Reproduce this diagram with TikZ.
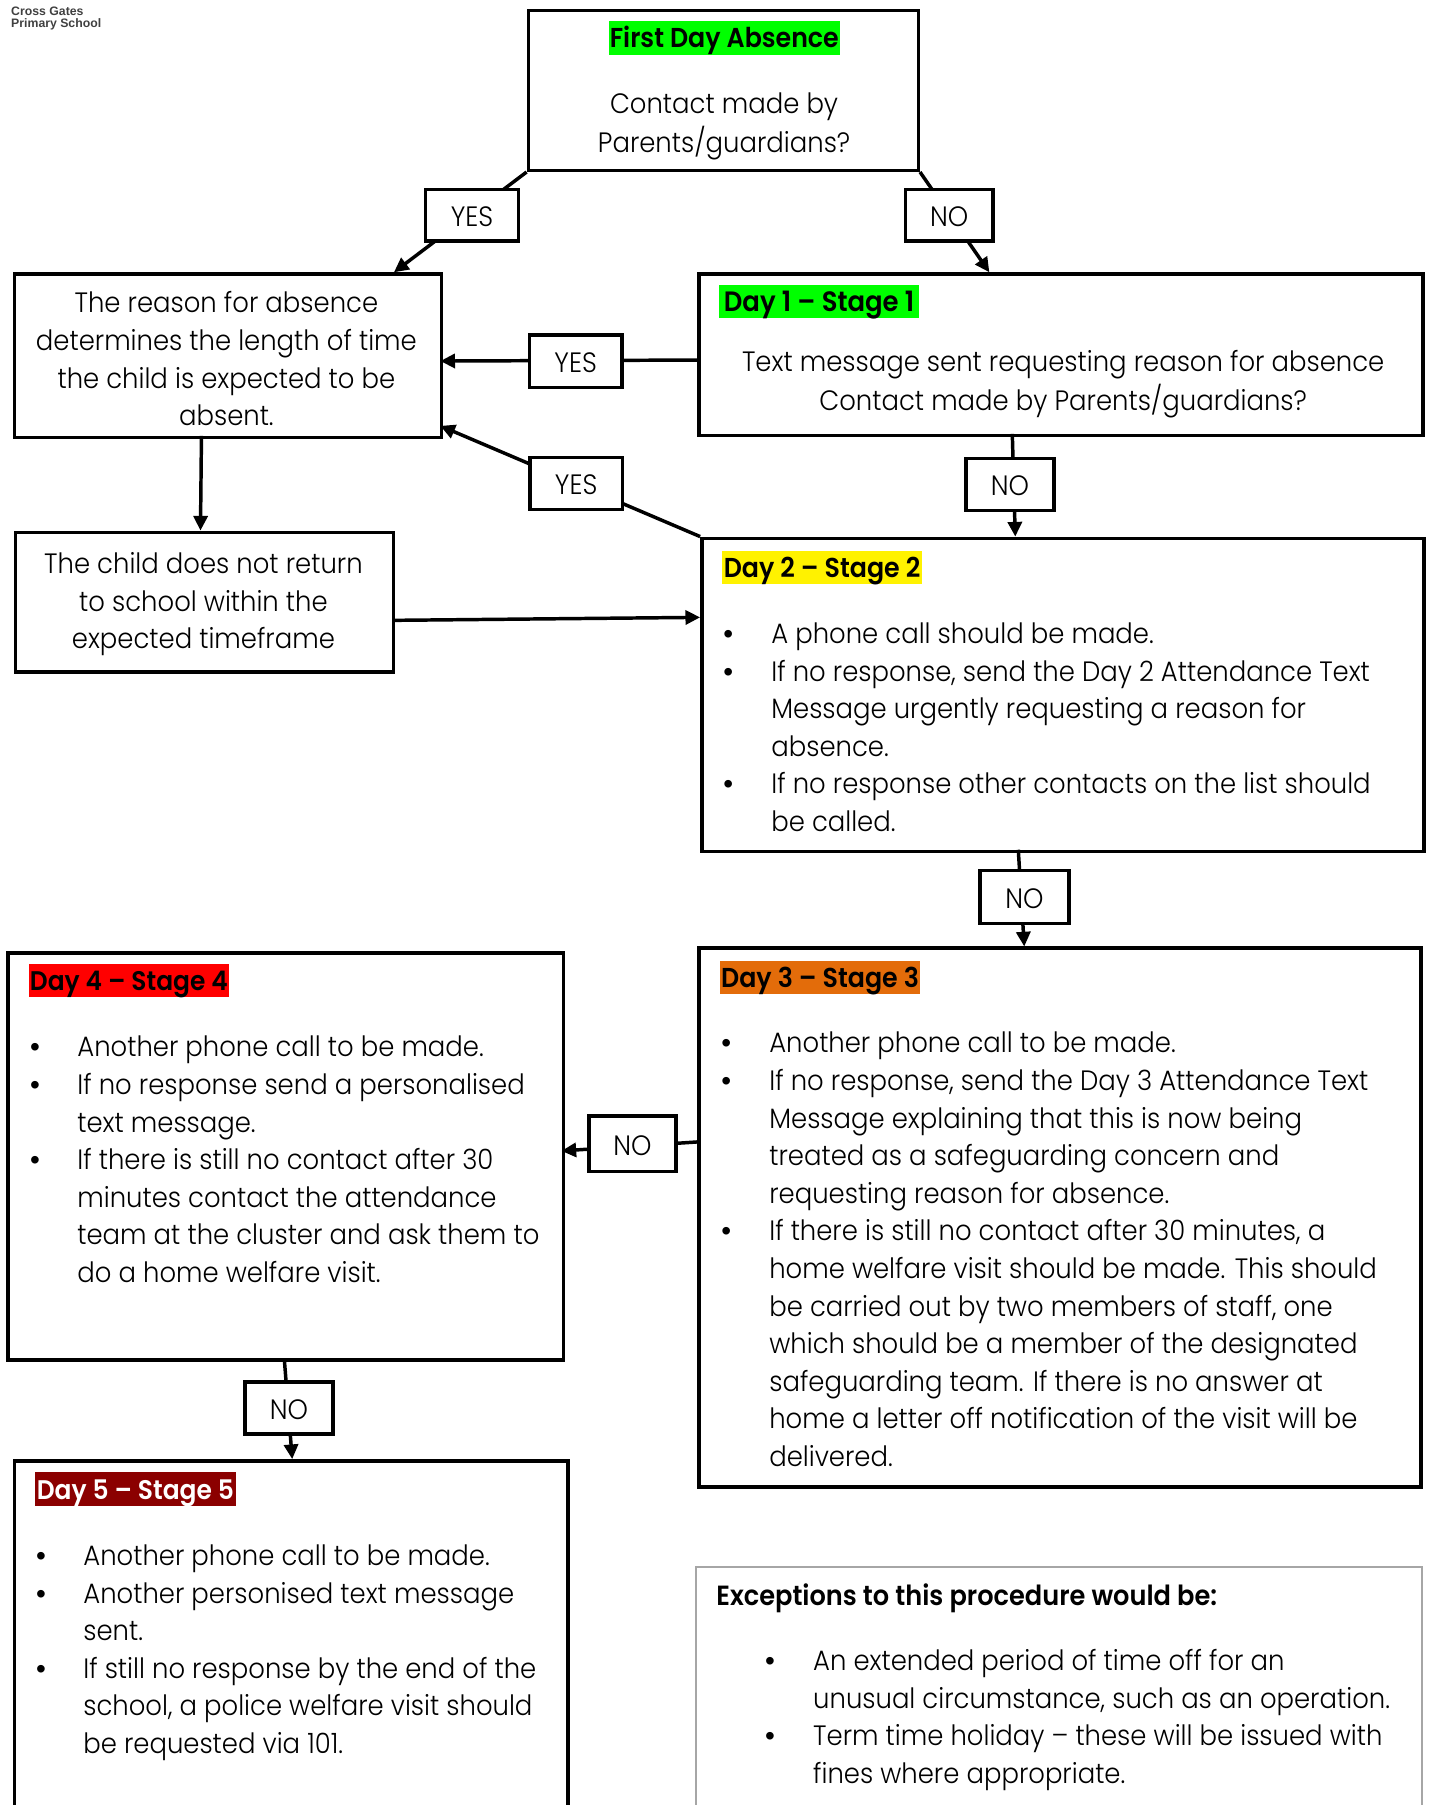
\documentclass[tikz,border=0pt]{standalone}
\usepackage{fontspec}
\setmainfont[FakeStretch=0.925]{Poppins Light}[BoldFont={Poppins SemiBold}]
\newfontfamily\logofont{Liberation Sans}
\usetikzlibrary{arrows.meta}
\definecolor{hlorange}{HTML}{E36C0A}
\definecolor{hldark}{HTML}{8B0000}
\newlength{\hg}
\newcommand{\bl}{\makebox[\hg][l]{\logofont •}}
\newcommand{\nb}{\hspace*{\hg}}
\newcommand{\lbl}[1]{\raisebox{-8.6pt}[0pt][0pt]{#1}}
\newcommand{\hd}[1]{\raisebox{-7.5pt}[0pt][0pt]{#1}}
\tikzset{
  x=0.748pt,y=-0.748pt,
  boxst/.style n args={2}{draw=black,line width=2.6pt,fill=none,inner sep=0pt,anchor=north west,minimum width=#1*0.748pt,minimum height=#2*0.748pt},
  labelst/.style n args={2}{draw=black,line width=2.6pt,fill=white,inner sep=0pt,anchor=north west,minimum width=#1*0.748pt,minimum height=#2*0.748pt,font=\fontsize{21}{28.2}\selectfont},
  arr/.style={line width=2.6pt,draw=black,-{Triangle[length=11pt,width=10.5pt]}},
  bodyc/.style={inner sep=0pt,anchor=north,align=center,font=\fontsize{21}{28.2}\selectfont},
  bodyl/.style={inner sep=0pt,anchor=north west,align=left,font=\fontsize{21}{28.2}\selectfont},
  head/.style n args={3}{fill=#1,text=#2,inner sep=0pt,anchor=north west,minimum width=#3*0.748pt,minimum height=25pt,font=\fontsize{20.5}{28.2}\selectfont\bfseries},
}
\begin{document}
\begin{tikzpicture}
\useasboundingbox (0,0) rectangle (1433.85,1809.83);
\clip (0,0) rectangle (1433.85,1809.83);
% boxes
\node[boxst={391}{160}] (first) at (528,9) {};
\node[boxst={428}{164}] (reason) at (13,273) {};
\node[boxst={726}{162}] (day1) at (699,273) {};
\node[boxst={379}{140}] (child) at (14,532) {};
\node[boxst={724}{314}] (day2) at (702,538) {};
\node[boxst={724}{540}] (day3) at (699,949) {};
\node[boxst={557}{408}] (day4) at (6.5,954) {};
\node[boxst={555}{400}] (day5) at (13,1463) {};
\node[draw=black!35,line width=1.5pt,inner sep=0pt,anchor=north west,minimum width=544.5pt,minimum height=200pt] (exc) at (697,1570) {};
% connector end points on box borders
\coordinate (a1) at (395,273);
\coordinate (a2) at (992,273);
\coordinate (a3) at (441.5,427);
\coordinate (a4) at (1015,435);
\coordinate (a5) at (1018,538);
\coordinate (a6) at (202,437);
\coordinate (a7) at (201,532);
\coordinate (a8) at (394,622);
\coordinate (a9) at (702,619);
\coordinate (a10) at (1021,852);
\coordinate (a11) at (1027,949);
\coordinate (a12) at (699,1145);
\coordinate (a13) at (563,1154);
\coordinate (a14) at (285,1362);
\coordinate (a15) at (293,1463);
\coordinate (a16) at (699,361);
\coordinate (a17) at (441.5,362);
% connectors
\draw[arr] (first.south west) -- (a1);
\draw[arr] (first.south east) -- (a2);
\draw[arr] (a16) -- (a17);
\draw[arr] (day2.north west) -- (a3);
\draw[arr] (a4) -- (a5);
\draw[arr] (a6) -- (a7);
\draw[arr] (a8) -- (a9);
\draw[arr] (a10) -- (a11);
\draw[arr] (a12) -- (a13);
\draw[arr] (a14) -- (a15);
% labels
\node[labelst={93}{52}] (yes1) at (425,188) {\lbl{YES}};
\node[labelst={88}{52}] (no1) at (906,188) {\lbl{NO}};
\node[labelst={93}{53}] (yes2) at (529,334) {\lbl{YES}};
\node[labelst={93}{52}] (yes3) at (529.5,457) {\lbl{YES}};
\node[labelst={88}{52}] (no2) at (967,458) {\lbl{NO}};
\node[labelst={89}{53}] (no3) at (981,871) {\lbl{NO}};
\node[labelst={87}{56}] (no4) at (589,1117) {\lbl{NO}};
\node[labelst={88}{52}] (no5) at (244,1384) {\lbl{NO}};
% headings
\node[head={green}{black}{232}] (h0) at (610,21) {\hd{First Day Absence}};
\node[head={green}{black}{200},font=\fontsize{21}{28.2}\selectfont\bfseries] (h1) at (721,285) {\hd{Day 1 – Stage 1}};
\node[head={yellow}{black}{200}] (h2) at (724,552) {\hd{Day 2 – Stage 2}};
\node[head={hlorange}{black}{200}] (h3) at (722,963) {\hd{Day 3 – Stage 3}};
\node[head={red}{black}{200},font=\fontsize{20.2}{28.2}\selectfont\bfseries] (h4) at (29,966) {\hd{Day 4 – Stage 4}};
\node[head={hldark}{white}{201},font=\fontsize{20.2}{28.2}\selectfont\bfseries] (h5) at (35,1476) {\hd{Day 5 – Stage 5}};
\node[inner sep=0pt,anchor=north west,font=\fontsize{20.8}{28.2}\selectfont\bfseries] (hx) at (718,1588) {Exceptions to this procedure would be:};
% body text
\node[bodyc] (t0) at (726,87) {\strut Contact made by\\Parents/guardians?};
\node[bodyc] (t1) at (227,287) {\strut The reason for absence\\determines the length of time\\the child is expected to be\\absent.};
\node[bodyc] (t2) at (1066,346) {\strut Text message sent requesting reason for absence\\Contact made by Parents/guardians?};
\node[bodyc] (t3) at (204,548.5) {\strut The child does not return\\to school within the\\expected timeframe};
\setlength{\hg}{36pt}
\node[bodyl] (t4) at (725,618.5) {\strut\bl A phone call should be made.\\
\bl If no response, send the Day 2 Attendance Text\\
\nb Message urgently requesting a reason for\\
\nb absence.\\
\bl If no response other contacts on the list should\\
\nb be called.};
\node[bodyl] (t5) at (723,1029) {\strut\bl Another phone call to be made.\\
\bl If no response, send the Day 3 Attendance Text\\
\nb Message explaining that this is now being\\
\nb treated as a safeguarding concern and\\
\nb requesting reason for absence.\\
\bl If there is still no contact after 30 minutes, a\\
\nb home welfare visit should be made. This should\\
\nb be carried out by two members of staff, one\\
\nb which should be a member of the designated\\
\nb safeguarding team. If there is no answer at\\
\nb home a letter off notification of the visit will be\\
\nb delivered.};
\node[bodyl] (t8) at (767,1648.5) {\strut\bl An extended period of time off for an\\
\nb unusual circumstance, such as an operation.\\
\bl Term time holiday – these will be issued with\\
\nb fines where appropriate.};
\setlength{\hg}{35.4pt}
\node[bodyl] (t6) at (30,1033) {\strut\bl Another phone call to be made.\\
\bl If no response send a personalised\\
\nb text message.\\
\bl If there is still no contact after 30\\
\nb minutes contact the attendance\\
\nb team at the cluster and ask them to\\
\nb do a home welfare visit.};
\node[bodyl] (t7) at (36,1543) {\strut\bl Another phone call to be made.\\
\bl Another personised text message\\
\nb sent.\\
\bl If still no response by the end of the\\
\nb school, a police welfare visit should\\
\nb be requested via 101.};
\node[inner sep=0pt,anchor=north west,align=left,text=black!75,font=\logofont\fontsize{9.2}{9}\selectfont\bfseries] (logo) at (11,7) {Cross Gates\\Primary School};
\end{tikzpicture}
\end{document}
